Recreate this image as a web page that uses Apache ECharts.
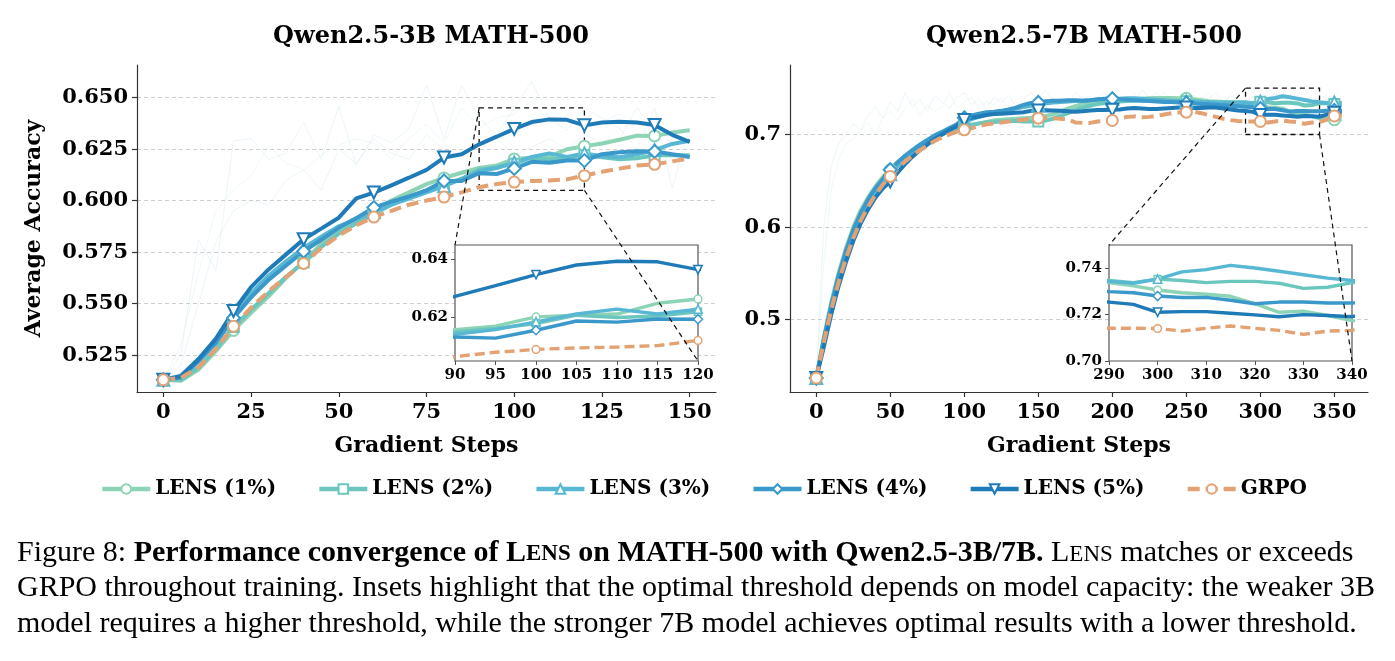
<!DOCTYPE html>
<html>
<head>
<meta charset="utf-8">
<title>LENS vs GRPO on MATH-500</title>
<script src="https://cdn.jsdelivr.net/npm/echarts@6/dist/echarts.min.js"></script>
<style>
  html, body { margin: 0; padding: 0; background: #fff; }
  #main { width: 1395px; height: 661px; }
</style>
</head>
<body>
<div id="main"></div>
<script>
// gradient steps, every 5
var stepsL = [0, 5, 10, 15, 20, 25, 30, 35, 40, 45, 50, 55, 60, 65, 70, 75, 80, 85, 90, 95,
    100, 105, 110, 115, 120, 125, 130, 135, 140, 145, 150];
var stepsR = [0, 5, 10, 15, 20, 25, 30, 35, 40, 45, 50, 55, 60, 65, 70, 75, 80, 85, 90, 95,
    100, 105, 110, 115, 120, 125, 130, 135, 140, 145, 150, 155, 160, 165, 170, 175, 180, 185, 190, 195,
    200, 205, 210, 215, 220, 225, 230, 235, 240, 245, 250, 255, 260, 265, 270, 275, 280, 285, 290, 295,
    300, 305, 310, 315, 320, 325, 330, 335, 340, 345, 350, 355];

// Qwen2.5-3B (smoothed)
var lens1L = [0.513, 0.5125, 0.518, 0.527, 0.537, 0.5455, 0.5535, 0.5625, 0.5705, 0.579, 0.5855, 0.5905, 0.595, 0.600, 0.604, 0.608,
    0.611, 0.6135, 0.6158, 0.617, 0.6202, 0.6208, 0.6212, 0.6249, 0.6264, 0.6277, 0.6295, 0.6315, 0.6314, 0.633, 0.6341];
var lens2L = [0.513, 0.513, 0.519, 0.528, 0.5386, 0.547, 0.555, 0.563, 0.570, 0.5775, 0.584, 0.589, 0.5935, 0.598, 0.6015, 0.605,
    0.608, 0.6105, 0.615, 0.6162, 0.6179, 0.6208, 0.620, 0.6205, 0.622, 0.621, 0.620, 0.6205, 0.622, 0.622, 0.622];
var lens3L = [0.513, 0.515, 0.523, 0.532, 0.544, 0.555, 0.5635, 0.5705, 0.577, 0.5825, 0.5875, 0.591, 0.5945, 0.598, 0.601, 0.604,
    0.607, 0.6105, 0.6142, 0.6158, 0.6185, 0.6212, 0.6229, 0.6212, 0.6229, 0.6215, 0.621, 0.6225, 0.6245, 0.6275, 0.629];
var lens4L = [0.513, 0.514, 0.522, 0.531, 0.543, 0.553, 0.5615, 0.5685, 0.5754, 0.581, 0.5868, 0.5915, 0.5966, 0.5995, 0.602, 0.605,
    0.6095, 0.6095, 0.6133, 0.6129, 0.6156, 0.6188, 0.6184, 0.6195, 0.6194, 0.6225, 0.6235, 0.624, 0.6238, 0.6225, 0.6212];
var lens5L = [0.513, 0.5148, 0.523, 0.533, 0.5464, 0.558, 0.5666, 0.5739, 0.5812, 0.5864, 0.5917, 0.6011, 0.6039, 0.6074, 0.6111, 0.6149,
    0.6209, 0.6225, 0.6273, 0.6310, 0.6348, 0.6381, 0.6394, 0.6392, 0.6365, 0.6379, 0.6382, 0.6379, 0.6367, 0.6319, 0.6285];
var grpoL = [0.513, 0.514, 0.519, 0.528, 0.539, 0.548, 0.556, 0.563, 0.5695, 0.577, 0.583, 0.588, 0.592, 0.595, 0.598, 0.600,
    0.6017, 0.604, 0.6065, 0.608, 0.609, 0.6095, 0.6098, 0.6103, 0.6121, 0.614, 0.6155, 0.617, 0.6176, 0.619, 0.6205];
// raw (unsmoothed) runs, drawn faint
var rawL1 = [0.513, 0.525, 0.581, 0.566, 0.629, 0.630, 0.620, 0.623, 0.638, 0.620, 0.646, 0.617, 0.632, 0.628, 0.635, 0.656,
    0.630, 0.656, 0.640, 0.632, 0.645, 0.658, 0.640, 0.634, 0.645, 0.640, 0.635, 0.625, 0.645, 0.606, 0.636];
var rawL2 = [0.513, 0.530, 0.565, 0.595, 0.605, 0.612, 0.627, 0.618, 0.615, 0.622, 0.627, 0.630, 0.628, 0.620, 0.630, 0.637,
    0.628, 0.645, 0.635, 0.640, 0.642, 0.648, 0.638, 0.640, 0.635, 0.638, 0.642, 0.638, 0.628, 0.620, 0.625];
var rawL3 = [0.513, 0.520, 0.550, 0.580, 0.595, 0.600, 0.598, 0.610, 0.615, 0.605, 0.625, 0.618, 0.630, 0.623, 0.620, 0.632,
    0.625, 0.620, 0.628, 0.630, 0.622, 0.626, 0.630, 0.625, 0.632, 0.628, 0.630, 0.645, 0.635, 0.628, 0.630];

// Qwen2.5-7B (smoothed)
var lens1R = [0.437, 0.480, 0.518, 0.550, 0.577, 0.600, 0.618, 0.632, 0.644, 0.654,
    0.662, 0.670, 0.677, 0.683, 0.688, 0.693, 0.697, 0.700, 0.703, 0.706,
    0.708, 0.710, 0.712, 0.7135, 0.715, 0.716, 0.7165, 0.717, 0.7175, 0.718,
    0.7185, 0.720, 0.722, 0.725, 0.728, 0.7305, 0.733, 0.7345, 0.7355, 0.736,
    0.7365, 0.737, 0.7375, 0.738, 0.7385, 0.739, 0.7395, 0.7395, 0.7395, 0.739,
    0.739, 0.738, 0.737, 0.736, 0.7355, 0.735, 0.7345, 0.734, 0.7338, 0.7324,
    0.7306, 0.7294, 0.7288, 0.7279, 0.7247, 0.721, 0.7215, 0.7196, 0.7174, 0.7165,
    0.7158, 0.716];
var lens2R = [0.437, 0.476, 0.513, 0.545, 0.572, 0.595, 0.613, 0.628, 0.640, 0.650,
    0.6585, 0.667, 0.675, 0.681, 0.687, 0.692, 0.697, 0.701, 0.704, 0.707,
    0.709, 0.7105, 0.712, 0.713, 0.7135, 0.714, 0.7145, 0.7145, 0.714, 0.714,
    0.714, 0.715, 0.717, 0.720, 0.723, 0.726, 0.729, 0.731, 0.733, 0.734,
    0.735, 0.7355, 0.736, 0.7365, 0.737, 0.737, 0.737, 0.7365, 0.736, 0.736,
    0.736, 0.7355, 0.735, 0.7348, 0.7345, 0.7345, 0.7345, 0.7347, 0.7347, 0.7338,
    0.7353, 0.7347, 0.7338, 0.7343, 0.7343, 0.7335, 0.7313, 0.7318, 0.7338, 0.734,
    0.733, 0.733];
var lens3R = [0.437, 0.474, 0.510, 0.542, 0.569, 0.592, 0.611, 0.626, 0.638, 0.648,
    0.657, 0.666, 0.674, 0.681, 0.687, 0.692, 0.697, 0.701, 0.705, 0.709,
    0.713, 0.7165, 0.719, 0.7215, 0.7235, 0.725, 0.7265, 0.728, 0.7295, 0.731,
    0.732, 0.7335, 0.7345, 0.735, 0.7355, 0.736, 0.7365, 0.737, 0.7375, 0.738,
    0.7385, 0.7385, 0.739, 0.739, 0.7385, 0.738, 0.7375, 0.737, 0.7365, 0.736,
    0.7356, 0.7355, 0.735, 0.7348, 0.7345, 0.7343, 0.7342, 0.7342, 0.7343, 0.7335,
    0.7353, 0.7384, 0.7394, 0.7412, 0.7401, 0.7387, 0.7372, 0.7357, 0.7347, 0.734,
    0.7345, 0.734];
var lens4R = [0.437, 0.478, 0.515, 0.547, 0.574, 0.597, 0.615, 0.630, 0.642, 0.652,
    0.6619, 0.670, 0.677, 0.683, 0.689, 0.694, 0.699, 0.703, 0.707, 0.711,
    0.718, 0.7205, 0.7225, 0.724, 0.7245, 0.7255, 0.727, 0.729, 0.732, 0.734,
    0.7345, 0.736, 0.7365, 0.7365, 0.737, 0.737, 0.7365, 0.737, 0.738, 0.7385,
    0.7385, 0.738, 0.7375, 0.737, 0.7365, 0.736, 0.7355, 0.735, 0.735, 0.7345,
    0.734, 0.7335, 0.733, 0.7325, 0.732, 0.7315, 0.731, 0.7305, 0.7299, 0.7294,
    0.728, 0.7274, 0.7274, 0.7262, 0.7247, 0.7254, 0.7254, 0.725, 0.725, 0.7255,
    0.726, 0.726];
var lens5R = [0.437, 0.470, 0.505, 0.536, 0.562, 0.585, 0.604, 0.619, 0.632, 0.642,
    0.6493, 0.659, 0.668, 0.676, 0.683, 0.689, 0.695, 0.700, 0.705, 0.709,
    0.7155, 0.718, 0.7195, 0.721, 0.722, 0.7225, 0.723, 0.7235, 0.724, 0.7255,
    0.726, 0.7262, 0.726, 0.7255, 0.725, 0.7245, 0.725, 0.726, 0.7265, 0.7265,
    0.7266, 0.727, 0.728, 0.7285, 0.728, 0.7275, 0.7275, 0.728, 0.7285, 0.729,
    0.729, 0.7285, 0.7285, 0.729, 0.729, 0.728, 0.727, 0.726, 0.7254, 0.7244,
    0.721, 0.7213, 0.7213, 0.7206, 0.7199, 0.7191, 0.720, 0.7196, 0.7191, 0.7215,
    0.7235, 0.7235];
var grpoR = [0.437, 0.475, 0.510, 0.540, 0.566, 0.588, 0.607, 0.622, 0.635, 0.646,
    0.6547, 0.663, 0.671, 0.677, 0.683, 0.688, 0.693, 0.697, 0.700, 0.703,
    0.705, 0.707, 0.709, 0.711, 0.712, 0.713, 0.714, 0.715, 0.716, 0.717,
    0.7176, 0.718, 0.7175, 0.717, 0.716, 0.713, 0.7125, 0.7125, 0.714, 0.7148,
    0.7151, 0.717, 0.719, 0.7195, 0.7185, 0.719, 0.720, 0.7215, 0.723, 0.7238,
    0.7241, 0.7245, 0.723, 0.721, 0.719, 0.717, 0.7155, 0.7145, 0.7141, 0.7141,
    0.714, 0.7129, 0.7141, 0.7151, 0.7141, 0.7132, 0.7115, 0.7129, 0.7132, 0.716,
    0.720, 0.7205];
var rawR1 = [0.437, 0.600, 0.665, 0.690, 0.700, 0.712, 0.705, 0.720, 0.730, 0.718,
    0.735, 0.725, 0.745, 0.730, 0.738, 0.725, 0.742, 0.735, 0.728, 0.740,
    0.745, 0.732, 0.738, 0.728, 0.740, 0.735, 0.742, 0.730, 0.738, 0.745,
    0.738, 0.748, 0.735, 0.740, 0.732, 0.745, 0.738, 0.742, 0.730, 0.740,
    0.745, 0.738, 0.742, 0.735, 0.748, 0.740, 0.738, 0.745, 0.735, 0.740,
    0.742, 0.735, 0.740, 0.738, 0.745, 0.735, 0.742, 0.738, 0.735, 0.740,
    0.742, 0.738, 0.745, 0.740, 0.735, 0.742, 0.738, 0.735, 0.740, 0.742,
    0.738, 0.735];
var rawR2 = [0.437, 0.560, 0.640, 0.672, 0.690, 0.695, 0.705, 0.712, 0.700, 0.718,
    0.725, 0.715, 0.728, 0.738, 0.720, 0.732, 0.725, 0.730, 0.745, 0.728,
    0.735, 0.740, 0.728, 0.735, 0.732, 0.740, 0.728, 0.736, 0.742, 0.732,
    0.745, 0.735, 0.740, 0.728, 0.738, 0.735, 0.742, 0.730, 0.740, 0.745,
    0.735, 0.742, 0.738, 0.745, 0.732, 0.740, 0.745, 0.735, 0.740, 0.738,
    0.735, 0.742, 0.738, 0.745, 0.732, 0.740, 0.735, 0.742, 0.730, 0.738,
    0.735, 0.740, 0.730, 0.738, 0.742, 0.735, 0.738, 0.740, 0.732, 0.738,
    0.735, 0.738];

var names = ['LENS (1%)', 'LENS (2%)', 'LENS (3%)', 'LENS (4%)', 'LENS (5%)', 'GRPO'];

// axis ticks and zoom windows
var tickStepsL = [0, 25, 50, 75, 100, 125, 150];
var tickAccL = [0.525, 0.55, 0.575, 0.6, 0.625, 0.65];
var tickStepsR = [0, 50, 100, 150, 200, 250, 300, 350];
var tickAccR = [0.5, 0.6, 0.7];
var insetTicksL = [0.62, 0.64];
var insetTicksR = [0.70, 0.72, 0.74];
var boxStepsL = [90, 120];
var boxAccL = [0.605, 0.645];
var boxStepsR = [290, 340];
var boxAccR = [0.70, 0.75];

var colors = ['#8dd3b5', '#6bc7bd', '#58b7d3', '#3a98cb', '#1f7ab8', '#e2a273'];
var symbols = ['circle', 'rect', 'triangle', 'diamond', 'triangle', 'circle'];
var symbolRot = [0, 0, 0, 0, 180, 0];
var symbolSizes = [11, 10, 12, 13, 12, 11];
var serif = 'DejaVu Serif';

var chart = echarts.init(document.getElementById('main'), null, { renderer: 'canvas' });

function mainLine(i, xs, ys, g, every, inset) {
    var data = xs.map(function (x, k) {
        var d = { value: [x, ys[k]] };
        if (k % every !== 0) d.symbol = 'none';
        return d;
    });
    return {
        type: 'line', name: names[i], xAxisIndex: g, yAxisIndex: g, data: data,
        z: inset ? 12 : 3,
        symbol: symbols[i], symbolRotate: symbolRot[i],
        symbolSize: inset ? symbolSizes[i] * 0.7 : symbolSizes[i],
        showSymbol: true, showAllSymbol: true, clip: true,
        lineStyle: {
            color: colors[i], width: inset ? 3.4 : 4,
            type: i === 5 ? (inset ? [10, 5] : [12, 6]) : 'solid'
        },
        itemStyle: { color: '#fff', borderColor: colors[i], borderWidth: inset ? 1.5 : 2 },
        emphasis: { disabled: true }, silent: true
    };
}

function rawLine(xs, ys, g, color) {
    return {
        type: 'line', name: 'raw', xAxisIndex: g, yAxisIndex: g, z: 1,
        data: xs.map(function (x, k) { return [x, ys[k]]; }),
        symbol: 'none', silent: true,
        lineStyle: { color: color, width: 1, opacity: 0.13 }
    };
}

function boxArea(steps, acc) {
    return {
        silent: true, label: { show: false },
        itemStyle: { color: 'rgba(0,0,0,0)', borderColor: '#111', borderWidth: 1.3, borderType: [5, 4] },
        data: [[{ coord: [steps[0], acc[0]] }, { coord: [steps[1], acc[1]] }]]
    };
}

var boldText = { fontFamily: serif, fontWeight: 'bold', color: '#000' };
function font(size) { return Object.assign({ fontSize: size }, boldText); }

function mainX(g, min, max, ticks) {
    return {
        gridIndex: g, type: 'value', min: min, max: max,
        name: 'Gradient Steps', nameLocation: 'middle', nameGap: 43, nameTextStyle: font(22),
        axisLine: { show: true, onZero: false, lineStyle: { color: '#333', width: 1.2 } },
        axisTick: { show: true, length: 5, customValues: ticks, lineStyle: { color: '#333', width: 1.2 } },
        axisLabel: Object.assign({ margin: 10, customValues: ticks }, font(21)),
        splitLine: { show: false }
    };
}
function mainY(g, min, max, ticks, digits, name) {
    return {
        gridIndex: g, type: 'value', min: min, max: max,
        name: name, nameLocation: 'middle', nameGap: 92, nameTextStyle: font(22),
        axisLine: { show: true, onZero: false, lineStyle: { color: '#333', width: 1.2 } },
        axisTick: { show: true, length: 5, customValues: ticks, lineStyle: { color: '#333', width: 1.2 } },
        axisLabel: Object.assign({
            margin: 9, customValues: ticks,
            formatter: function (v) { return v.toFixed(digits); }
        }, font(21)),
        splitLine: { show: true, lineStyle: { color: '#cfcfcf', width: 1, type: [4, 3] } }
    };
}
function insetX(g, box, interval) {
    return {
        gridIndex: g, type: 'value', min: box[0], max: box[1], interval: interval, z: 11,
        axisLine: { show: false, onZero: false },
        axisTick: { show: true, length: 4, lineStyle: { color: '#555' } },
        axisLabel: Object.assign({ margin: 7 }, font(15)),
        splitLine: { show: false }
    };
}
function insetY(g, box, ticks) {
    return {
        gridIndex: g, type: 'value', min: box[0], max: box[1], z: 11,
        axisLine: { show: false, onZero: false },
        axisTick: { show: true, length: 4, customValues: ticks, lineStyle: { color: '#555' } },
        axisLabel: Object.assign({
            margin: 7, customValues: ticks,
            formatter: function (v) { return v.toFixed(2); }
        }, font(15)),
        splitLine: { show: false }
    };
}

var insetGrid = { show: true, backgroundColor: '#fff', borderColor: '#555', borderWidth: 1.2, z: 10, outerBoundsMode: 'none' };

var series = [];
[rawL1, rawL2, rawL3].forEach(function (r, k) { series.push(rawLine(stepsL, r, 0, k === 1 ? '#7fcdbb' : '#6baed6')); });
[rawR1, rawR2].forEach(function (r, k) { series.push(rawLine(stepsR, r, 2, k === 1 ? '#7fcdbb' : '#6baed6')); });
var setsL = [lens1L, lens2L, lens3L, lens4L, lens5L, grpoL];
var setsR = [lens1R, lens2R, lens3R, lens4R, lens5R, grpoR];
setsL.forEach(function (ys, i) { series.push(mainLine(i, stepsL, ys, 0, 4, false)); });
setsR.forEach(function (ys, i) { series.push(mainLine(i, stepsR, ys, 2, 10, false)); });
setsL.forEach(function (ys, i) { series.push(mainLine(i, stepsL, ys, 1, 4, true)); });
setsR.forEach(function (ys, i) { series.push(mainLine(i, stepsR, ys, 3, 10, true)); });
// zoom boxes on the GRPO main lines
series[5 + 5].markArea = boxArea(boxStepsL, boxAccL);
series[5 + 11].markArea = boxArea(boxStepsR, boxAccR);

var capFont = 'Liberation Serif';
var capRich = {
    n: { fontFamily: capFont, fontSize: 30, color: '#000', verticalAlign: 'bottom' },
    b: { fontFamily: capFont, fontSize: 30, fontWeight: 'bold', color: '#000', verticalAlign: 'bottom' },
    bs: { fontFamily: capFont, fontSize: 23, fontWeight: 'bold', color: '#000', verticalAlign: 'bottom', padding: [0, 0, 2, 0] },
    s: { fontFamily: capFont, fontSize: 23, color: '#000', verticalAlign: 'bottom', padding: [0, 0, 2, 0] }
};
var capLines = [
    '{n|Figure 8: }{b|Performance convergence of L}{bs|ENS}{b| on MATH-500 with Qwen2.5-3B/7B.}{n| L}{s|ENS}{n| matches or exceeds}',
    '{n|GRPO throughout training. Insets highlight that the optimal threshold depends on model capacity: the weaker 3B}',
    '{n|model requires a higher threshold, while the stronger 7B model achieves optimal results with a lower threshold.}'
];

var option = {
    backgroundColor: '#fff',
    animation: false,
    title: [
        { text: 'Qwen2.5-3B MATH-500', left: 426, top: 20, textAlign: 'center', textStyle: font(24) },
        { text: 'Qwen2.5-7B MATH-500', left: 1079, top: 20, textAlign: 'center', textStyle: font(24) }
    ],
    legend: {
        data: names, left: 95, top: 474, itemWidth: 48, itemHeight: 12, itemGap: 41,
        selectedMode: false, textStyle: font(20), lineStyle: { width: 4.5 }
    },
    grid: [
        { left: 137, top: 65, width: 579, height: 327, outerBoundsMode: 'none' },
        Object.assign({ left: 455, top: 245, width: 243, height: 116 }, insetGrid),
        { left: 790, top: 65, width: 578, height: 327, outerBoundsMode: 'none' },
        Object.assign({ left: 1109, top: 245, width: 243, height: 116 }, insetGrid)
    ],
    xAxis: [
        mainX(0, -7.5, 157.5, tickStepsL),
        insetX(1, boxStepsL, 5),
        mainX(2, -17.75, 372.75, tickStepsR),
        insetX(3, boxStepsR, 10)
    ],
    yAxis: [
        mainY(0, 0.5071, 0.6658, tickAccL, 3, 'Average Accuracy'),
        insetY(1, boxAccL, insetTicksL),
        mainY(2, 0.422, 0.775, tickAccR, 1, ''),
        insetY(3, boxAccR, insetTicksR)
    ],
    graphic: capLines.map(function (t, k) {
        return { type: 'text', id: 'cap' + k, left: 17, top: 538 + k * 35.5, silent: true,
            style: { text: t, rich: capRich, font: '30px ' + capFont, fill: '#000' } };
    }),
    series: series
};

chart.setOption(option);

// dashed connectors from the zoom box corners to the inset corners
function connector(id, mainGrid, insetGrid, pt) {
    var a = chart.convertToPixel({ gridIndex: mainGrid }, pt);
    var b = chart.convertToPixel({ gridIndex: insetGrid }, pt);
    return { type: 'line', id: id, z: 100, silent: true,
        shape: { x1: a[0], y1: a[1], x2: b[0], y2: b[1] },
        style: { stroke: '#111', lineWidth: 1.2, lineDash: [5, 4] } };
}
chart.setOption({
    graphic: [
        connector('l1', 0, 1, [boxStepsL[0], boxAccL[1]]),
        connector('l2', 0, 1, [boxStepsL[1], boxAccL[0]]),
        connector('r1', 2, 3, [boxStepsR[0], boxAccR[1]]),
        connector('r2', 2, 3, [boxStepsR[1], boxAccR[0]])
    ]
});
window.addEventListener('resize', chart.resize);
</script>
</body>
</html>
